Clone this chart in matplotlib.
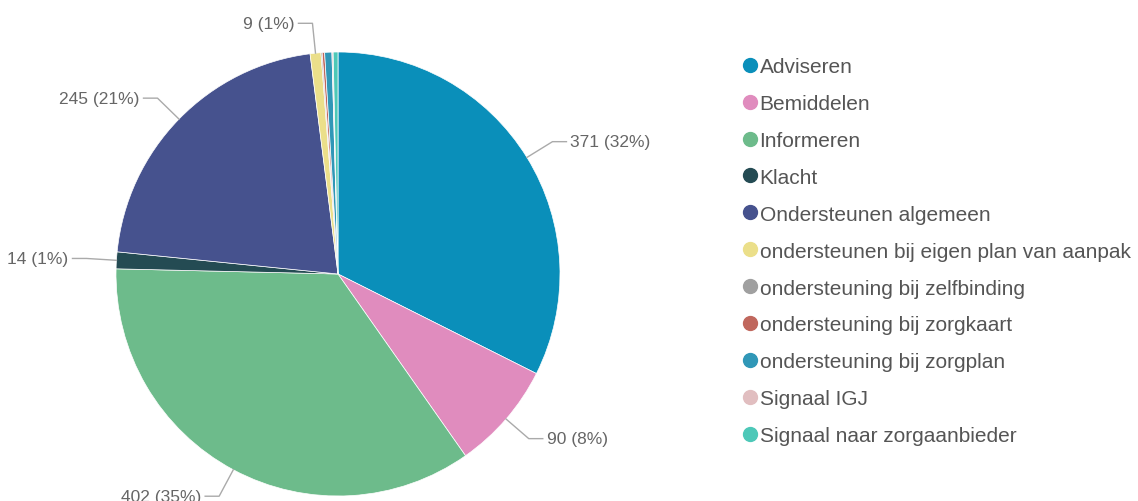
import numpy as np
import matplotlib
matplotlib.use("Agg")
import matplotlib.pyplot as plt
from matplotlib.lines import Line2D

plt.rcParams['font.family'] = ['Liberation Sans', 'DejaVu Sans']

categories = ['Adviseren', 'Bemiddelen', 'Informeren', 'Klacht',
              'Ondersteunen algemeen', 'ondersteunen bij eigen plan van aanpak',
              'ondersteuning bij zelfbinding', 'ondersteuning bij zorgkaart',
              'ondersteuning bij zorgplan', 'Signaal IGJ',
              'Signaal naar zorgaanbieder']
values = [371, 90, 402, 14, 245, 9, 1, 2, 6, 1, 4]
colors = ['#0a8fba', '#e08cbe', '#6dbb8b', '#244b53', '#46528e', '#ebdf8a',
          '#a0a0a0', '#c0675d', '#3097b7', '#e1bec0', '#4dc8b8']

W, H = 1138, 502
fig = plt.figure(figsize=(W / 100, H / 100), dpi=100)
ax = fig.add_axes([0, 0, 1, 1])

cx, cy, r = 338, H - 275, 222
wedges, _ = ax.pie(values, colors=colors, startangle=90, counterclock=False,
                   center=(cx, cy), radius=r, frame=True,
                   wedgeprops=dict(linewidth=0.5, edgecolor='white'))
ax.set_xlim(0, W)
ax.set_ylim(0, H)
ax.set_aspect('equal')
ax.axis('off')

# labels met lijntjes
total = sum(values)
for w, v in zip(wedges, values):
    if v < 9:
        continue
    pct = v / total * 100
    ang = np.deg2rad((w.theta1 + w.theta2) / 2)
    x0, y0 = cx + r * np.cos(ang), cy + r * np.sin(ang)
    x1, y1 = cx + (r + 30) * np.cos(ang), cy + (r + 30) * np.sin(ang)
    side = 1 if np.cos(ang) >= 0 else -1
    x2 = x1 + side * 14
    ax.plot([x0, x1, x2], [y0, y1, y1], color='#aaaaaa', lw=1)
    ax.text(x2 + side * 4, y1, f'{v} ({pct:.0f}%)', color='#666666', fontsize=12.5,
            ha='left' if side > 0 else 'right', va='center')

handles = [Line2D([], [], marker='o', linestyle='', markersize=10,
                  markerfacecolor=c, markeredgecolor=c) for c in colors]
leg = ax.legend(handles, categories, loc='upper left',
                bbox_to_anchor=(745 / W, 1 - 58 / H), bbox_transform=fig.transFigure,
                frameon=False, fontsize=15, handlelength=0.5, handletextpad=0.2,
                labelspacing=0.86, borderaxespad=0, borderpad=0)
for t in leg.get_texts():
    t.set_color('#555555')

fig.savefig('out.png', dpi=100)
